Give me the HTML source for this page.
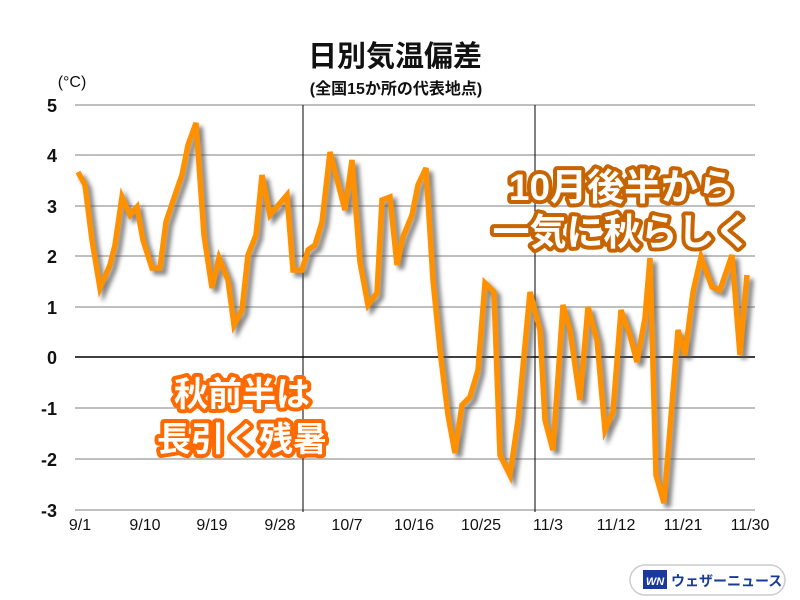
<!DOCTYPE html>
<html><head><meta charset="utf-8"><style>
body{margin:0;background:#fff;}
svg{display:block;font-family:"Liberation Sans","Noto Sans CJK JP",sans-serif;}
</style></head><body>
<svg width="800" height="600" viewBox="0 0 800 600" xmlns="http://www.w3.org/2000/svg">
<defs>
<filter id="sh" x="-5%" y="-5%" width="110%" height="110%"><feGaussianBlur stdDeviation="2"/></filter>
</defs>
<rect width="800" height="600" fill="#fff"/>
<text x="395" y="66" font-size="29" font-weight="bold" text-anchor="middle" fill="#111">日別気温偏差</text>
<text x="396" y="94" font-size="16" font-weight="bold" text-anchor="middle" fill="#111">(全国15か所の代表地点)</text>
<text x="72" y="87" font-size="16" text-anchor="middle" fill="#111">(°C)</text>
<g stroke="#aaa" stroke-width="1.5">
<line x1="75" y1="105" x2="755" y2="105"/><line x1="75" y1="155" x2="755" y2="155"/>
<line x1="75" y1="206" x2="755" y2="206"/><line x1="75" y1="256" x2="755" y2="256"/>
<line x1="75" y1="307" x2="755" y2="307"/><line x1="75" y1="408" x2="755" y2="408"/>
<line x1="75" y1="459" x2="755" y2="459"/><line x1="75" y1="510" x2="755" y2="510"/>
</g>
<line x1="75" y1="357" x2="755" y2="357" stroke="#000" stroke-width="1.5"/>
<line x1="303" y1="105" x2="303" y2="512" stroke="#000" stroke-width="1"/>
<line x1="535" y1="105" x2="535" y2="512" stroke="#000" stroke-width="1"/>
<g font-size="18" font-weight="bold" text-anchor="end" fill="#111">
<text x="57" y="112">5</text><text x="57" y="162">4</text><text x="57" y="213">3</text>
<text x="57" y="263">2</text><text x="57" y="314">1</text><text x="57" y="364">0</text>
<text x="57" y="415">-1</text><text x="57" y="466">-2</text><text x="57" y="517">-3</text>
</g>
<g font-size="16" text-anchor="middle" fill="#111">
<text x="80" y="530">9/1</text><text x="145" y="530">9/10</text><text x="212" y="530">9/19</text>
<text x="280" y="530">9/28</text><text x="347" y="530">10/7</text><text x="414" y="530">10/16</text>
<text x="481" y="530">10/25</text><text x="548" y="530">11/3</text><text x="616" y="530">11/12</text>
<text x="683" y="530">11/21</text><text x="750" y="530">11/30</text>
</g>
<g id="ln">
<polyline filter="url(#sh)" transform="translate(4,4)" fill="none" stroke="#555" stroke-opacity="0.7" stroke-width="6" stroke-linejoin="miter" points="78,172 85,185 92,240 100,288 110,265 115,245 122,197 130,215 137,207 143,240 152,268 160,268 166,222 175,195 182,175 188,145 196,123 204,235 212,288 219,258 228,280 234,325 242,310 248,255 256,235 262,175 270,215 287,195 293,270 302,270 308,250 315,245 322,222 330,152 345,210 352,160 360,262 368,305 377,293 382,200 390,197 397,265 403,237 412,215 418,185 426,168 433,280 440,350 448,415 455,453 462,405 470,397 478,370 485,283 494,292 500,455 510,475 518,420 530,292 540,330 545,420 553,450 563,305 570,330 580,400 588,307 597,340 605,430 613,412 621,310 630,335 637,362 645,318 650,258 656,475 664,503 678,330 685,355 693,292 701,257 712,287 720,290 732,255 740,355 747,275"/>
<polyline fill="none" stroke="#ff9000" stroke-width="5.5" stroke-linejoin="miter" points="78,172 85,185 92,240 100,288 110,265 115,245 122,197 130,215 137,207 143,240 152,268 160,268 166,222 175,195 182,175 188,145 196,123 204,235 212,288 219,258 228,280 234,325 242,310 248,255 256,235 262,175 270,215 287,195 293,270 302,270 308,250 315,245 322,222 330,152 345,210 352,160 360,262 368,305 377,293 382,200 390,197 397,265 403,237 412,215 418,185 426,168 433,280 440,350 448,415 455,453 462,405 470,397 478,370 485,283 494,292 500,455 510,475 518,420 530,292 540,330 545,420 553,450 563,305 570,330 580,400 588,307 597,340 605,430 613,412 621,310 630,335 637,362 645,318 650,258 656,475 664,503 678,330 685,355 693,292 701,257 712,287 720,290 732,255 740,355 747,275"/>
</g>
<g font-size="34" font-weight="bold" text-anchor="middle" stroke-linejoin="round" paint-order="stroke" stroke="#ff6a00" stroke-width="8" fill="#fff">
<text x="242" y="406">秋前半は</text>
<text x="242" y="451">長引く残暑</text>
</g>
<g font-size="37" font-weight="bold" text-anchor="middle" stroke-linejoin="round" paint-order="stroke" stroke="#c86400" stroke-width="8" fill="#fff">
<text x="622" y="200">10月後半から</text>
<text x="622" y="245">一気に秋らしく</text>
</g>
<rect x="630" y="565" width="155" height="30" rx="15" fill="#fff" stroke="#ccc" stroke-width="1.5"/>
<rect x="643" y="570" width="24" height="19" fill="#1a3a9a"/>
<text x="655" y="585" font-size="11" font-weight="bold" font-style="italic" fill="#fff" text-anchor="middle">WN</text>
<text x="671" y="586" font-size="14" font-weight="bold" fill="#1a3a9a">ウェザーニュース</text>
</svg>
</body></html>
